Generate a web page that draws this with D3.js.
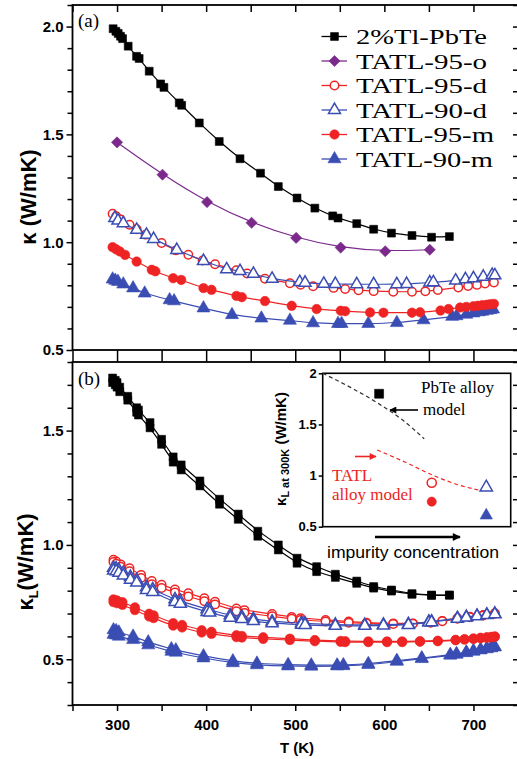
<!DOCTYPE html>
<html><head><meta charset="utf-8">
<script src="https://cdn.jsdelivr.net/npm/d3@7"></script>
<style>body{margin:0;background:#fff}svg{display:block}</style>
</head><body>
<script>
// ---------- DATA ----------
// panel (a): total thermal conductivity kappa (W/mK) vs T (K)
const T_Tl  = [295.6,298.7,301.3,303.9,306.2,312.5,321.9,324.8,336.1,348.9,352.6,369.8,372.5,392.3,414.7,438,461,481,502,522,542,548,569,588,608,631,653,673];
const k_Tl  = [1.990,1.978,1.968,1.955,1.944,1.909,1.862,1.852,1.793,1.734,1.718,1.646,1.635,1.553,1.467,1.387,1.320,1.258,1.205,1.158,1.122,1.112,1.086,1.060,1.042,1.031,1.023,1.026];
const T_95o = [300,351,401,451,501,551,601,651];
const k_95o = [1.463,1.313,1.186,1.090,1.020,0.975,0.958,0.965];
const T_95d = [295,299,304,314,322,332,350,366,380,396,410,434,446,466,494,506,520,543,556,571,588,610,631,646,660,683,694,704,713,723];
const k_95d = [1.132,1.120,1.105,1.081,1.060,1.035,0.996,0.962,0.942,0.915,0.898,0.870,0.855,0.830,0.810,0.803,0.796,0.788,0.783,0.777,0.773,0.770,0.770,0.772,0.778,0.790,0.797,0.802,0.808,0.813];
const T_90d = [297.5,301,307,322,333,341,367,397,423,438,453,474,505,511,532,545,569,588,614,625,651,655,680,691,700,711,721,724];
const k_90d = [1.112,1.100,1.088,1.057,1.034,1.015,0.964,0.913,0.874,0.866,0.853,0.830,0.815,0.812,0.807,0.806,0.805,0.805,0.805,0.806,0.813,0.814,0.822,0.828,0.833,0.840,0.848,0.846];
const T_95m = [295,299,303,309,322,339,343,363,372,397,406,434,440,466,496,524,551,556,584,599,631,640,663,672,685,692,700,705,710,715,719,723];
const k_95m = [0.977,0.967,0.957,0.941,0.910,0.872,0.865,0.833,0.825,0.787,0.779,0.751,0.745,0.727,0.705,0.690,0.682,0.680,0.674,0.673,0.673,0.675,0.683,0.690,0.697,0.700,0.703,0.705,0.708,0.710,0.712,0.714];
const T_90m = [295,298,301,307,318,331,359,364,397,429,462,494,520,548,552,582,614,644,676,681,692,700,706,710,715,719,722];
const k_90m = [0.828,0.822,0.817,0.805,0.787,0.763,0.732,0.727,0.694,0.663,0.647,0.637,0.625,0.622,0.622,0.622,0.626,0.639,0.655,0.658,0.665,0.671,0.676,0.679,0.683,0.686,0.689];

// panel (b): lattice thermal conductivity, two estimates (a, b) per sample
const TL_Tl  = [295,298,300,303,312,322,324,337,350,363,372,393,415,436,458,481,502,524,545,569,588,608,631,653,673];
const kLa_Tl = [1.730,1.720,1.710,1.690,1.650,1.600,1.590,1.535,1.462,1.385,1.350,1.280,1.200,1.135,1.060,1.000,0.942,0.905,0.872,0.842,0.818,0.803,0.787,0.781,0.781];
const kLb_Tl = [1.710,1.700,1.690,1.670,1.633,1.580,1.568,1.512,1.440,1.362,1.328,1.258,1.178,1.112,1.038,0.978,0.920,0.883,0.858,0.832,0.811,0.798,0.784,0.779,0.780];
const TL_95d  = [296,299,304,314,327,339,350,365,380,398,410,434,443,474,496,506,534,560,580,610,632,652,665,682,696,711,724];
const kLa_95d = [0.935,0.928,0.915,0.898,0.869,0.842,0.826,0.805,0.789,0.767,0.752,0.722,0.715,0.698,0.685,0.680,0.672,0.665,0.660,0.657,0.657,0.662,0.668,0.679,0.686,0.694,0.701];
const kLb_95d = [0.925,0.918,0.905,0.885,0.855,0.828,0.812,0.792,0.775,0.754,0.740,0.710,0.703,0.688,0.677,0.672,0.665,0.660,0.656,0.654,0.655,0.660,0.666,0.677,0.684,0.692,0.699];
const TL_90d  = [296,299,302,307,315,322,333,340,365,371,401,404,427,440,453,474,507,511,545,578,599,627,650,653,682,692,704,715,724];
const kLa_90d = [0.900,0.897,0.890,0.878,0.860,0.847,0.815,0.806,0.762,0.755,0.719,0.716,0.692,0.686,0.676,0.665,0.658,0.656,0.651,0.650,0.651,0.653,0.664,0.665,0.680,0.685,0.690,0.695,0.699];
const kLb_90d = [0.888,0.885,0.878,0.866,0.848,0.835,0.803,0.794,0.750,0.743,0.707,0.704,0.681,0.676,0.667,0.657,0.651,0.650,0.646,0.646,0.647,0.650,0.661,0.662,0.677,0.682,0.688,0.693,0.697];
const TL_95m  = [296,300,306,320,336,341,363,373,395,406,434,440,464,494,522,551,556,582,603,620,640,660,680,690,700,708,715,720,724];
const kLa_95m = [0.762,0.757,0.750,0.727,0.699,0.692,0.658,0.650,0.627,0.620,0.605,0.602,0.596,0.590,0.584,0.580,0.579,0.578,0.578,0.578,0.579,0.581,0.585,0.588,0.591,0.594,0.596,0.598,0.600];
const kLb_95m = [0.750,0.745,0.738,0.715,0.687,0.680,0.647,0.639,0.617,0.611,0.597,0.595,0.589,0.584,0.579,0.576,0.575,0.575,0.575,0.575,0.577,0.579,0.583,0.586,0.589,0.592,0.594,0.596,0.598];
const TL_90m  = [296,299,302,318,335,361,366,397,430,457,492,518,547,554,582,614,642,674,681,692,700,708,715,720,724];
const kLa_90m = [0.628,0.624,0.618,0.600,0.575,0.545,0.540,0.514,0.492,0.482,0.476,0.474,0.474,0.475,0.480,0.494,0.505,0.520,0.524,0.531,0.537,0.543,0.548,0.552,0.555];
const kLb_90m = [0.608,0.605,0.600,0.585,0.562,0.534,0.530,0.505,0.484,0.475,0.470,0.469,0.470,0.471,0.476,0.490,0.502,0.517,0.521,0.528,0.534,0.540,0.545,0.549,0.553];

// inset: kL at 300 K vs impurity concentration (arbitrary units)
const inset_X   = [3.0, 5.8, 5.8, 8.7, 8.7];
const inset_Y   = [1.80, 0.93, 0.745, 0.885, 0.61];
const inset_Sym = ["Tl", "95d", "95m", "90d", "90m"];
const modelPbTe_X = [0, 1.5, 3.0, 4.2, 5.4];
const modelPbTe_Y = [2.00, 1.86, 1.70, 1.55, 1.36];
const modelTATL_X = [2.9, 4.4, 5.9, 7.2, 8.5];
const modelTATL_Y = [1.25, 1.13, 1.00, 0.91, 0.85];

// labels and ticks
const seriesNames = ["2%Tl-PbTe","TATL-95-o","TATL-95-d","TATL-90-d","TATL-95-m","TATL-90-m"];
const xTicksMajor = [300,400,500,600,700];
const xTicksAll   = [250,300,350,400,450,500,550,600,650,700,750];
const yTopMajor = [0.5,1.0,1.5,2.0];
const yTopMinor = [0.6,0.7,0.8,0.9,1.1,1.2,1.3,1.4,1.6,1.7,1.8,1.9,2.1];
const yBotMajor = [0.5,1.0,1.5];
const yBotMinor = [0.3,0.4,0.6,0.7,0.8,0.9,1.1,1.2,1.3,1.4,1.6,1.7,1.8];
const yInMajor  = [0.5,1,1.5,2];
const yInLabels = ["0.5","1","1.5","2"];

// ---------- STYLE ----------
const C = {Tl:"#000000", o:"#7b2a8c", red:"#ee2424", blue:"#3a4db3"};
const styles = {
  Tl:  {color:C.Tl,   sym:d3.symbolSquare,   size:62, open:false},
  "95o":{color:C.o,   sym:d3.symbolSquare,   size:62, open:false, rot:45},
  "95d":{color:C.red, sym:d3.symbolCircle,   size:56, open:true},
  "90d":{color:C.blue,sym:d3.symbolTriangle, size:62, open:true},
  "95m":{color:C.red, sym:d3.symbolCircle,   size:70, open:false},
  "90m":{color:C.blue,sym:d3.symbolTriangle, size:74, open:false}
};
const keys = ["Tl","95o","95d","90d","95m","90m"];

const W = 517, H = 759;
const svg = d3.select("body").append("svg").attr("width",W).attr("height",H)
  .style("font-family","'Liberation Sans',Arial,sans-serif");

const x = d3.scaleLinear().domain([250,750]).range([72.5,518]);
const yTop = d3.scaleLinear().domain([0.5,2.1]).range([350,5]);
const yBot = d3.scaleLinear().domain([0.3,1.8]).range([705,362]);

function marker(g, pts, st){
  g.selectAll(null).data(pts).enter().append("path")
    .attr("d", d3.symbol().type(st.sym).size(st.size))
    .attr("transform", d => `translate(${d[0]},${d[1]})` + (st.rot ? ` rotate(${st.rot})` : ""))
    .attr("fill", st.open ? "#fff" : st.color)
    .attr("stroke", st.color).attr("stroke-width", st.open ? 1.5 : 0.6);
}
function series(g, T, V, y, st){
  const pts = T.map((t,i)=>[x(t), y(V[i])]);
  g.append("path").datum(pts)
    .attr("d", d3.line().curve(d3.curveBasis))
    .attr("fill","none").attr("stroke",st.color).attr("stroke-width",1.2);
  marker(g, pts, st);
}
function ticksOnly(g){ g.select(".domain").remove(); g.selectAll("line").attr("stroke","#000").attr("stroke-width",1.5); }

function frameAxes(y, yMaj, yMin, top, bottom, showX){
  const fmt = d3.format(".1f");
  svg.append("g").attr("transform","translate(72.5,0)")
    .call(d3.axisLeft(y).tickValues(yMaj).tickSize(6).tickPadding(3).tickFormat(fmt))
    .call(ticksOnly)
    .call(g=>g.selectAll("text").attr("font-size",15).attr("font-weight","bold").attr("fill","#000"));
  svg.append("g").attr("transform","translate(72.5,0)")
    .call(d3.axisLeft(y).tickValues(yMin).tickSize(5).tickFormat("")).call(ticksOnly);
  svg.append("g").attr("transform","translate(518,0)")
    .call(d3.axisLeft(y).tickValues(yMaj.concat(yMin)).tickSize(-5).tickFormat("")).call(ticksOnly)
    .call(g=>g.selectAll("line").attr("x2",-5));
  svg.append("g").attr("transform",`translate(0,${top})`)
    .call(d3.axisTop(x).tickValues(xTicksAll).tickSize(top>100?6:-7).tickFormat("")).call(ticksOnly);
  const bx = svg.append("g").attr("transform",`translate(0,${bottom})`)
    .call(d3.axisBottom(x).tickValues(xTicksAll).tickSize(6).tickPadding(8)
      .tickFormat(d => showX && xTicksMajor.includes(d) ? d : "")).call(ticksOnly);
  bx.selectAll("text").attr("font-size",15).attr("font-weight","bold").attr("fill","#000");
  svg.append("rect").attr("x",72.5).attr("y",top).attr("width",518-72.5).attr("height",bottom-top)
    .attr("fill","none").attr("stroke","#000").attr("stroke-width",1.8);
}

// ---------- PANEL (a) ----------
const ga = svg.append("g");
const topData = {Tl:[T_Tl,k_Tl],"95o":[T_95o,k_95o],"95d":[T_95d,k_95d],"90d":[T_90d,k_90d],"95m":[T_95m,k_95m],"90m":[T_90m,k_90m]};
["Tl","95o","90m","95m","95d","90d"].forEach(k => series(ga, topData[k][0], topData[k][1], yTop, styles[k]));
frameAxes(yTop, yTopMajor, yTopMinor, 5, 350, false);

svg.append("text").attr("x",78).attr("y",27).attr("font-family","'Liberation Serif',serif")
  .attr("font-size",19).text("(a)");
svg.append("text").attr("transform","translate(36,197) rotate(-90)").attr("text-anchor","middle")
  .attr("font-size",22).attr("font-weight","bold").text("\u03ba (W/mK)");

// legend
const legendWidths = [131,131,131,131,138,137];
const lg = svg.append("g");
keys.forEach((k,i)=>{
  const cy = 36.5 + i*24.5, st = styles[k];
  lg.append("line").attr("x1",321.5).attr("x2",347).attr("y1",cy).attr("y2",cy)
    .attr("stroke",st.color).attr("stroke-width",1.3);
  marker(lg, [[334.5,cy]], st);
  lg.append("text").attr("x",356).attr("y",cy+7.5).attr("font-family","'Liberation Serif',serif")
    .attr("font-size",21.5).attr("textLength",legendWidths[i]).attr("lengthAdjust","spacingAndGlyphs")
    .attr("fill","#000").text(seriesNames[i]);
});

// ---------- PANEL (b) ----------
const gb = svg.append("g");
const botData = {Tl:[TL_Tl,kLa_Tl,kLb_Tl],"95d":[TL_95d,kLa_95d,kLb_95d],"90d":[TL_90d,kLa_90d,kLb_90d],"95m":[TL_95m,kLa_95m,kLb_95m],"90m":[TL_90m,kLa_90m,kLb_90m]};
["Tl","90m","95m","95d","90d"].forEach(k => {
  series(gb, botData[k][0], botData[k][1], yBot, styles[k]);
  series(gb, botData[k][0], botData[k][2], yBot, styles[k]);
});
frameAxes(yBot, yBotMajor, yBotMinor, 362, 705, true);

svg.append("text").attr("x",78).attr("y",385).attr("font-family","'Liberation Serif',serif")
  .attr("font-size",19).text("(b)");
const yl = svg.append("text").attr("transform","translate(33,562) rotate(-90)").attr("text-anchor","middle")
  .attr("font-size",22).attr("font-weight","bold");
yl.append("tspan").text("\u03ba");
yl.append("tspan").attr("font-size",13).attr("dy",5).text("L");
yl.append("tspan").attr("dy",-5).text("(W/mK)");
svg.append("text").attr("x",297).attr("y",753).attr("text-anchor","middle")
  .attr("font-size",15).attr("font-weight","bold").text("T (K)");

// ---------- INSET ----------
const xi = d3.scaleLinear().domain([0,10]).range([322.7,510.7]);
const yi = d3.scaleLinear().domain([0.5,2]).range([526.7,373.3]);
const gi = svg.append("g");
gi.append("rect").attr("x",322.7).attr("y",373.3).attr("width",188).attr("height",153.4)
  .attr("fill","#fff").attr("stroke","#000").attr("stroke-width",1.6);
gi.append("g").attr("transform","translate(322.7,0)")
  .call(d3.axisLeft(yi).tickValues(yInMajor).tickSize(4).tickPadding(2).tickFormat((d,i)=>yInLabels[i]))
  .call(ticksOnly)
  .call(g=>g.selectAll("text").attr("font-size",13).attr("font-weight","bold").attr("fill","#000"));
const dl = d3.line().curve(d3.curveMonotoneX);
gi.append("path").attr("d", dl(modelPbTe_X.map((v,i)=>[xi(v), yi(modelPbTe_Y[i])])))
  .attr("fill","none").attr("stroke","#333").attr("stroke-width",1.2).attr("stroke-dasharray","4,3");
gi.append("path").attr("d", dl(modelTATL_X.map((v,i)=>[xi(v), yi(modelTATL_Y[i])])))
  .attr("fill","none").attr("stroke",C.red).attr("stroke-width",1.2).attr("stroke-dasharray","4,3");
inset_X.forEach((v,i)=>{
  const st = Object.assign({}, styles[inset_Sym[i]]);
  st.size = inset_Sym[i]==="Tl" ? 80 : 66;
  marker(gi, [[xi(v), yi(inset_Y[i])]], st);
});
// arrows
const defs = svg.append("defs");
function head(id,color,w,h){
  defs.append("marker").attr("id",id).attr("viewBox","0 0 10 10").attr("refX",9).attr("refY",5)
    .attr("markerWidth",w).attr("markerHeight",h).attr("orient","auto").attr("markerUnits","userSpaceOnUse")
    .append("path").attr("d","M0,0L10,5L0,10z").attr("fill",color);
}
head("hk","#000",10,7); head("hr",C.red,9,7); head("hb","#000",11,8);
gi.append("line").attr("x1",418).attr("y1",410).attr("x2",390).attr("y2",410)
  .attr("stroke","#000").attr("stroke-width",1.6).attr("marker-end","url(#hk)");
gi.append("line").attr("x1",355).attr("y1",456.5).attr("x2",376).attr("y2",456.5)
  .attr("stroke",C.red).attr("stroke-width",1.6).attr("marker-end","url(#hr)");
svg.append("line").attr("x1",375).attr("y1",537).attr("x2",460).attr("y2",537)
  .attr("stroke","#000").attr("stroke-width",2.6).attr("marker-end","url(#hb)");
const serif = "'Liberation Serif',serif";
gi.append("text").attr("x",421).attr("y",393).attr("font-family",serif).attr("font-size",17).text("PbTe alloy");
gi.append("text").attr("x",423).attr("y",415).attr("font-family",serif).attr("font-size",17).text("model");
gi.append("text").attr("x",332).attr("y",481).attr("font-family",serif).attr("font-size",17).attr("fill",C.red).text("TATL");
gi.append("text").attr("x",332).attr("y",500).attr("font-family",serif).attr("font-size",17).attr("fill",C.red).text("alloy model");
svg.append("text").attr("x",413).attr("y",558).attr("text-anchor","middle").attr("font-size",17)
  .attr("textLength",172).attr("lengthAdjust","spacingAndGlyphs").text("impurity concentration");
const il = svg.append("text").attr("transform","translate(286,449) rotate(-90)").attr("text-anchor","middle")
  .attr("font-size",15).attr("font-weight","bold");
il.append("tspan").text("\u03ba");
il.append("tspan").attr("font-size",11).attr("dy",3).text("L at 300K");
il.append("tspan").attr("dy",-3).text(" (W/mK)");
</script>
</body></html>
